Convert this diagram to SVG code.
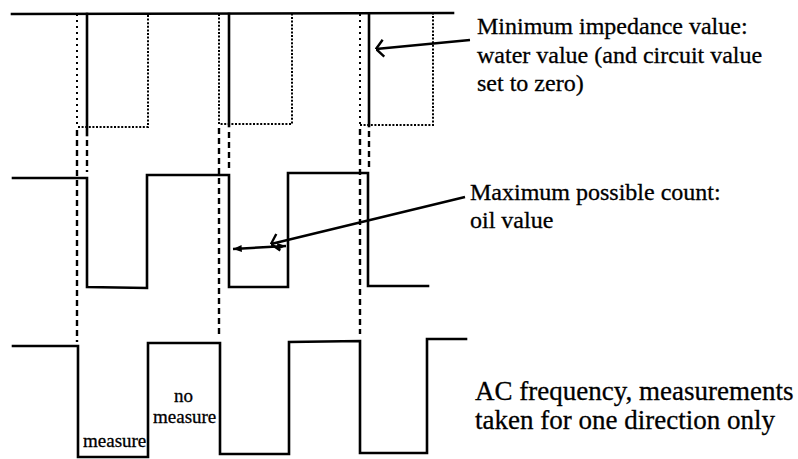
<svg xmlns="http://www.w3.org/2000/svg" width="798" height="459" viewBox="0 0 798 459">
  <style>
    .wave { fill: none; stroke: #000; stroke-width: 2.6; stroke-linejoin: miter; stroke-linecap: square; }
    .dot { fill: none; stroke: #000; stroke-width: 2; stroke-dasharray: 2 1.6; }
    .dotS { fill: none; stroke: #000; stroke-width: 2; stroke-dasharray: 2 4; }
    .dash { fill: none; stroke: #000; stroke-width: 2.4; stroke-dasharray: 6 4; }
    .ptr { fill: none; stroke: #000; stroke-width: 2.4; }
    .lbl { font-family: "Liberation Serif", "Times New Roman", serif; font-size: 24px; fill: #000; stroke: #000; stroke-width: 0.3; }
    .big { font-size: 27px; }
    .sm { font-family: "Liberation Serif", "Times New Roman", serif; font-size: 19px; fill: #000; stroke: #000; stroke-width: 0.3; }
  </style>
  <defs>
    <marker id="openArrow" viewBox="0 0 10 20" refX="9.5" refY="10" markerWidth="10" markerHeight="20" markerUnits="userSpaceOnUse" orient="auto">
      <path d="M2,1.5 L9.5,10 L2,18.5" fill="none" stroke="#000" stroke-width="2.4"/>
    </marker>
    <marker id="solidArrow" viewBox="0 0 10 8" refX="10" refY="4" markerWidth="9" markerHeight="7" markerUnits="userSpaceOnUse" orient="auto-start-reverse">
      <path d="M0,0 L10,4 L0,8 Z" fill="#000"/>
    </marker>
  </defs>
  <rect width="798" height="459" fill="#fff"/>

  <g id="impedance-wave">
    <path class="wave" d="M12,14 L453,13"/>
    <path class="wave" d="M87,14 L87,135"/>
    <path class="wave" d="M229,14 L229,126"/>
    <path class="wave" d="M369,14 L369,126"/>
    <path class="dotS" d="M77,14 L77,127"/>
    <path class="dot" d="M78,127 L148,127 L148,14"/>
    <path class="dot" d="M219,14 L219,124 L292,124 L292,14"/>
    <path class="dotS" d="M360,14 L360,125"/>
    <path class="dot" d="M360,125 L433,125 L433,14"/>
  </g>

  <g id="count-wave">
    <path class="wave" d="M13,178 L87,178 L87,287 L147,288 L147,175 L229,175 L229,287 L288,287 L288,173 L368,173 L368,286 L428,286"/>
  </g>

  <g id="ac-wave">
    <path class="wave" d="M13,346 L78,346 L78,457 L148,457 L148,343 L220,343 L220,454 L289,454 L289,342 L360,341 L360,453 L427,453 L427,339 L466,339"/>
  </g>

  <g id="connectors">
    <path class="dash" d="M77,130 L77,342"/>
    <path class="dash" d="M87,140 L87,172"/>
    <path class="dash" d="M219,128 L219,337"/>
    <path class="dash" d="M229,132 L229,170"/>
    <path class="dash" d="M360,129 L360,334"/>
    <path class="dash" d="M369,131 L369,168"/>
    <path class="ptr" d="M470,40 L376,49" marker-end="url(#openArrow)"/>
    <path class="ptr" d="M465,197 L271,244" marker-end="url(#openArrow)"/>
    <path class="ptr" d="M233,249 L286,246" marker-start="url(#solidArrow)" marker-end="url(#solidArrow)"/>
  </g>

  <g id="label-min">
    <text class="lbl" x="477" y="34">Minimum impedance value:</text>
    <text class="lbl" x="477" y="63">water value (and circuit value</text>
    <text class="lbl" x="477" y="91">set to zero)</text>
  </g>
  <g id="label-max">
    <text class="lbl" x="470" y="200">Maximum possible count:</text>
    <text class="lbl" x="470" y="228">oil value</text>
  </g>
  <g id="label-ac">
    <text class="lbl big" x="475" y="400">AC frequency, measurements</text>
    <text class="lbl big" x="475" y="429">taken for one direction only</text>
  </g>
  <g id="label-measure">
    <text class="sm" x="83" y="447">measure</text>
  </g>
  <g id="label-nomeasure">
    <text class="sm" x="174" y="402">no</text>
    <text class="sm" x="153" y="423">measure</text>
  </g>
</svg>
